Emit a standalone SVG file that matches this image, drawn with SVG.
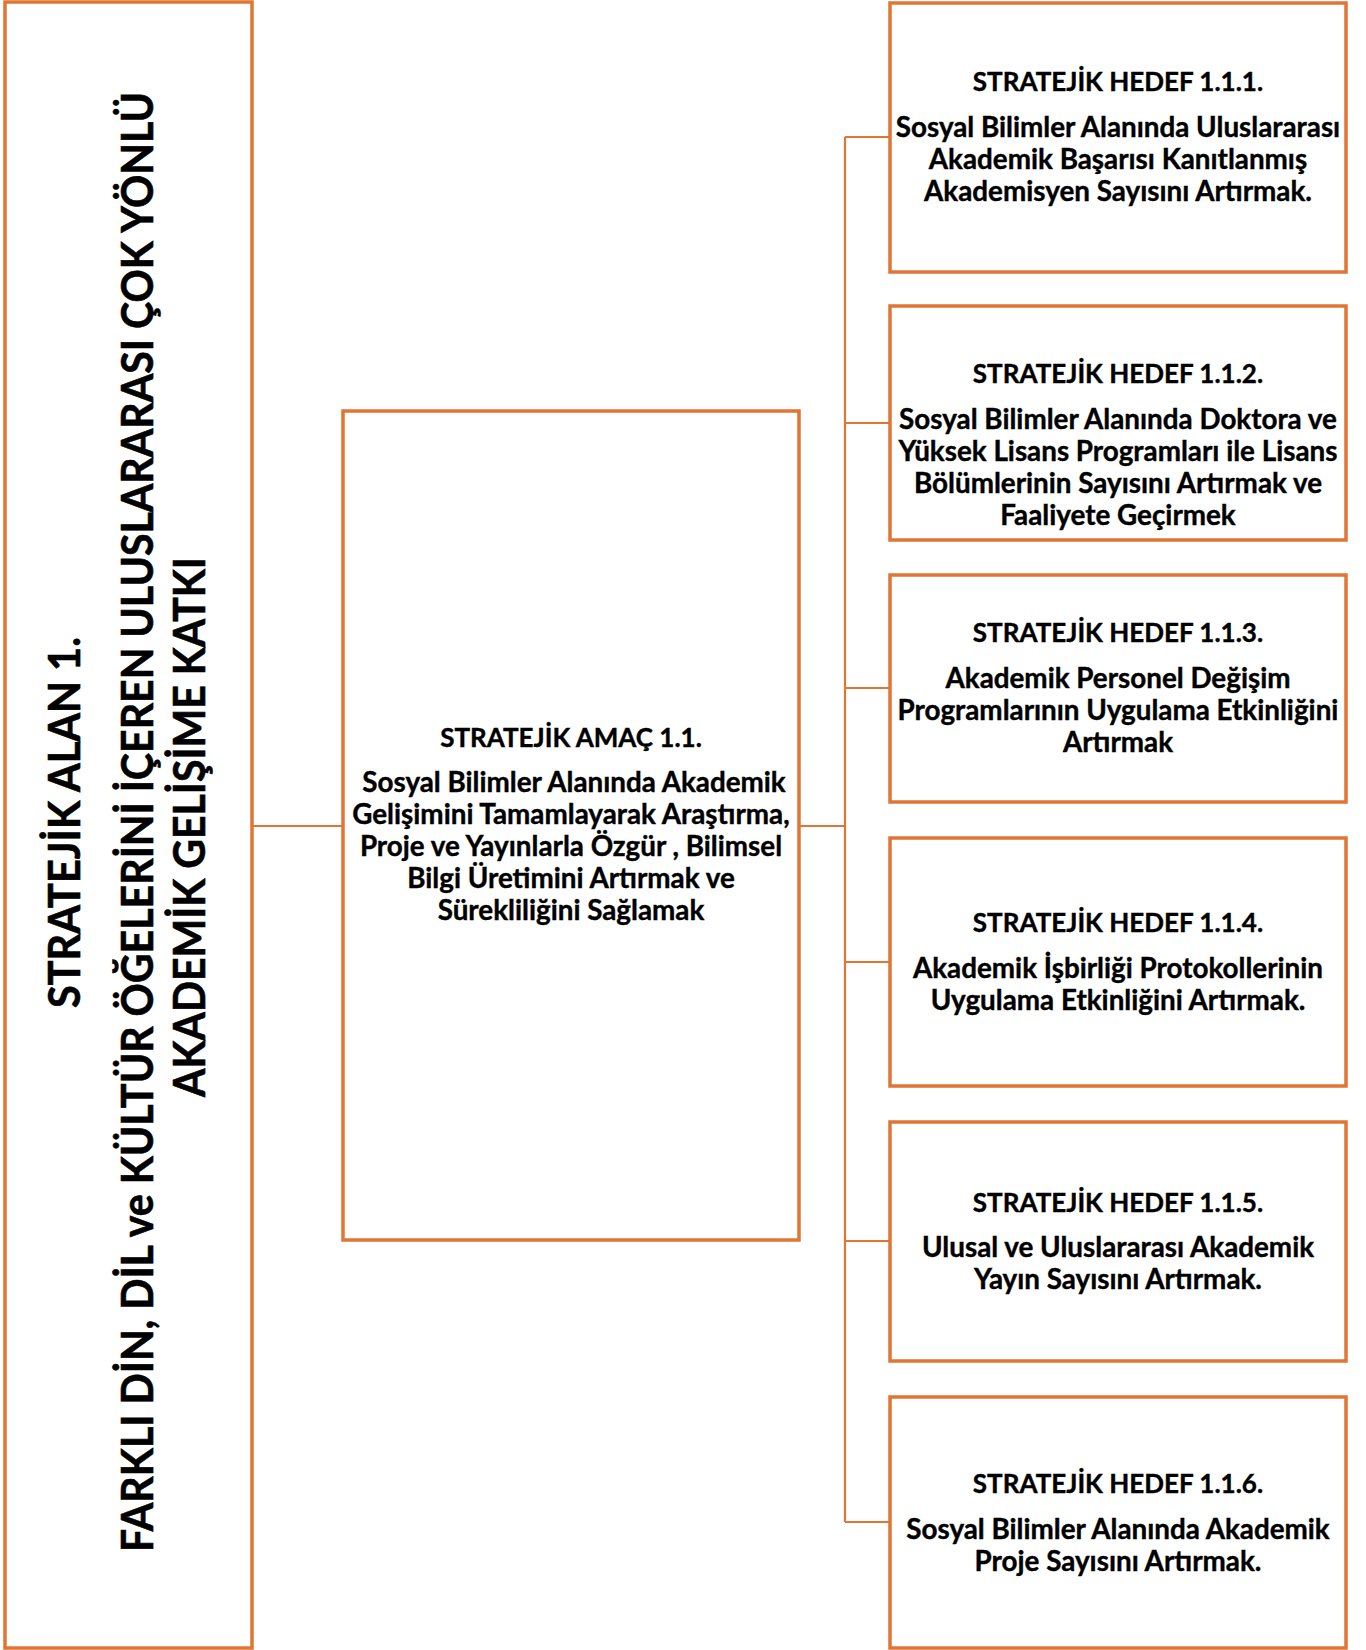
<svg xmlns="http://www.w3.org/2000/svg" width="1366" height="1650" viewBox="0 0 1366 1650">
<style>
.box{fill:#fff;stroke:#E07534;stroke-width:3.5}
.con{fill:none;stroke:#E07534;stroke-width:2.2}
text{font-family:Lato,"Open Sans","Liberation Sans",sans-serif;font-weight:700;fill:#000;stroke:#000;stroke-width:0.4;text-anchor:middle}
.h{font-size:26px}
.t{font-size:27.8px}
.big{font-size:43px;stroke-width:0.6}
</style>
<rect width="1366" height="1650" fill="#fff"/>
<g id="connectors">
<path class="con" d="M252 826H343"/>
<path class="con" d="M799 826H845"/>
<path class="con" d="M845 137V1522"/>
<path class="con" d="M845 137H890M845 423H890M845 688H890M845 962H890M845 1241H890M845 1522H890"/>
</g>
<g id="alan">
<rect class="box" x="5" y="2" width="247" height="1646"/>
<text class="big" transform="translate(80,822.5) rotate(-90)" textLength="371" lengthAdjust="spacingAndGlyphs">STRATEJİK ALAN 1.</text>
<text class="big" transform="translate(153,822) rotate(-90)" textLength="1460" lengthAdjust="spacingAndGlyphs">FARKLI DİN, DİL ve KÜLTÜR ÖĞELERİNİ İÇEREN ULUSLARARASI ÇOK YÖNLÜ</text>
<text class="big" transform="translate(205,827) rotate(-90)" textLength="540" lengthAdjust="spacingAndGlyphs">AKADEMİK GELİŞİME KATKI</text>
</g>
<g id="amac">
<rect class="box" x="343" y="411" width="456" height="829"/>
<text class="h" x="571" y="747">STRATEJİK AMAÇ 1.1.</text>
<text class="t" x="574" y="792">Sosyal Bilimler Alanında Akademik</text>
<text class="t" x="571" y="824">Gelişimini Tamamlayarak Araştırma,</text>
<text class="t" x="571" y="856">Proje ve Yayınlarla Özgür , Bilimsel</text>
<text class="t" x="571" y="888">Bilgi Üretimini Artırmak ve</text>
<text class="t" x="571" y="920">Sürekliliğini Sağlamak</text>
</g>
<g id="hedef1">
<rect class="box" x="890" y="3" width="456" height="269"/>
<text class="h" x="1118" y="91">STRATEJİK HEDEF 1.1.1.</text>
<text class="t" x="1118" y="137">Sosyal Bilimler Alanında Uluslararası</text>
<text class="t" x="1118" y="169">Akademik Başarısı Kanıtlanmış</text>
<text class="t" x="1118" y="201">Akademisyen Sayısını Artırmak.</text>
</g>
<g id="hedef2">
<rect class="box" x="890" y="306" width="456" height="234"/>
<text class="h" x="1118" y="383">STRATEJİK HEDEF 1.1.2.</text>
<text class="t" x="1118" y="429">Sosyal Bilimler Alanında Doktora ve</text>
<text class="t" x="1118" y="461">Yüksek Lisans Programları ile Lisans</text>
<text class="t" x="1118" y="493">Bölümlerinin Sayısını Artırmak ve</text>
<text class="t" x="1118" y="525">Faaliyete Geçirmek</text>
</g>
<g id="hedef3">
<rect class="box" x="890" y="575" width="456" height="227"/>
<text class="h" x="1118" y="642">STRATEJİK HEDEF 1.1.3.</text>
<text class="t" x="1118" y="688">Akademik Personel Değişim</text>
<text class="t" x="1118" y="720">Programlarının Uygulama Etkinliğini</text>
<text class="t" x="1118" y="752">Artırmak</text>
</g>
<g id="hedef4">
<rect class="box" x="890" y="838" width="456" height="248"/>
<text class="h" x="1118" y="932">STRATEJİK HEDEF 1.1.4.</text>
<text class="t" x="1118" y="978">Akademik İşbirliği Protokollerinin</text>
<text class="t" x="1118" y="1010">Uygulama Etkinliğini Artırmak.</text>
</g>
<g id="hedef5">
<rect class="box" x="890" y="1122" width="456" height="239"/>
<text class="h" x="1118" y="1212">STRATEJİK HEDEF 1.1.5.</text>
<text class="t" x="1118" y="1257">Ulusal ve Uluslararası Akademik</text>
<text class="t" x="1118" y="1289">Yayın Sayısını Artırmak.</text>
</g>
<g id="hedef6">
<rect class="box" x="890" y="1397" width="456" height="251"/>
<text class="h" x="1118" y="1493">STRATEJİK HEDEF 1.1.6.</text>
<text class="t" x="1118" y="1539">Sosyal Bilimler Alanında Akademik</text>
<text class="t" x="1118" y="1571">Proje Sayısını Artırmak.</text>
</g>
</svg>
